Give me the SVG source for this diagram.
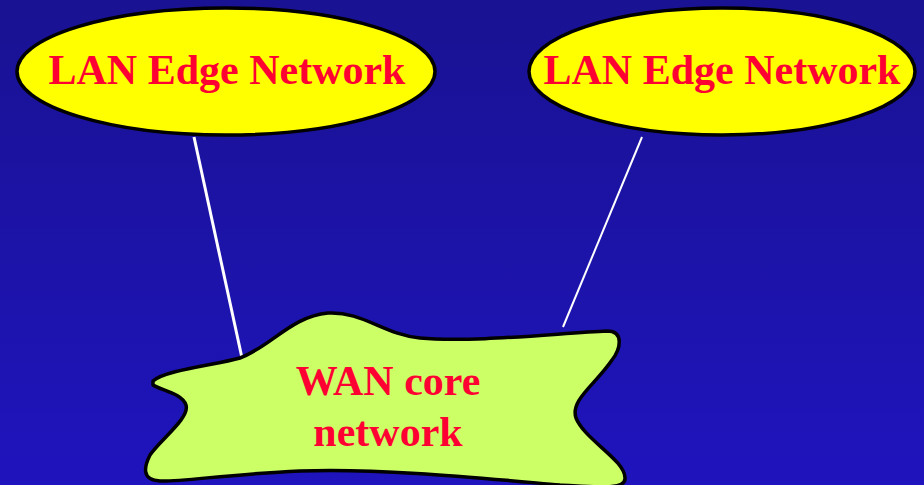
<svg xmlns="http://www.w3.org/2000/svg" width="924" height="485" viewBox="0 0 924 485">
<defs>
<linearGradient id="bg" x1="0" y1="0" x2="0" y2="1">
<stop offset="0" stop-color="#191292"/>
<stop offset="1" stop-color="#1f14bd"/>
</linearGradient>
</defs>
<style>
.lan{fill:#ffff00;stroke:#000;stroke-width:3.5}
.wan{fill:#ccff66;stroke:#000;stroke-width:3.5;stroke-linejoin:round}
.lbl{font-family:"Liberation Serif","Times New Roman",serif;font-weight:bold;fill:#ff0033;text-anchor:middle}
.conn{stroke:#fff;fill:none}
</style>
<rect x="0" y="0" width="924" height="485" fill="url(#bg)"/>
<g id="connectors">
<line class="conn" x1="194" y1="137" x2="242" y2="358" stroke-width="3"/>
<line class="conn" x1="642" y1="137" x2="563" y2="327" stroke-width="2"/>
</g>
<g id="lan-left">
<ellipse class="lan" cx="226" cy="71.5" rx="209" ry="63.5"/>
<text class="lbl" x="227" y="84" font-size="42">LAN Edge Network</text>
</g>
<g id="lan-right">
<ellipse class="lan" cx="722" cy="71.5" rx="193" ry="63.5"/>
<text class="lbl" x="722" y="84" font-size="42">LAN Edge Network</text>
</g>
<g id="wan">
<path class="wan" d="M 153,381 C 165,370 215,365 240,358 C 270,347 292,316 328,313 C 362,311 385,335 420,338 C 470,343 560,333 607,331 C 625,331 620,350 612,360 C 595,385 570,400 576,418 C 585,440 625,460 625,478 C 626,490 600,487 560,485 C 480,478 380,468 300,471 C 230,474 180,482 160,481 C 140,480 145,465 150,455 C 160,440 190,418 186,405 C 182,393 160,390 153,385 Z"/>
<text class="lbl" x="388" y="395" font-size="42">WAN core</text>
<text class="lbl" x="388" y="446" font-size="42">network</text>
</g>
</svg>
